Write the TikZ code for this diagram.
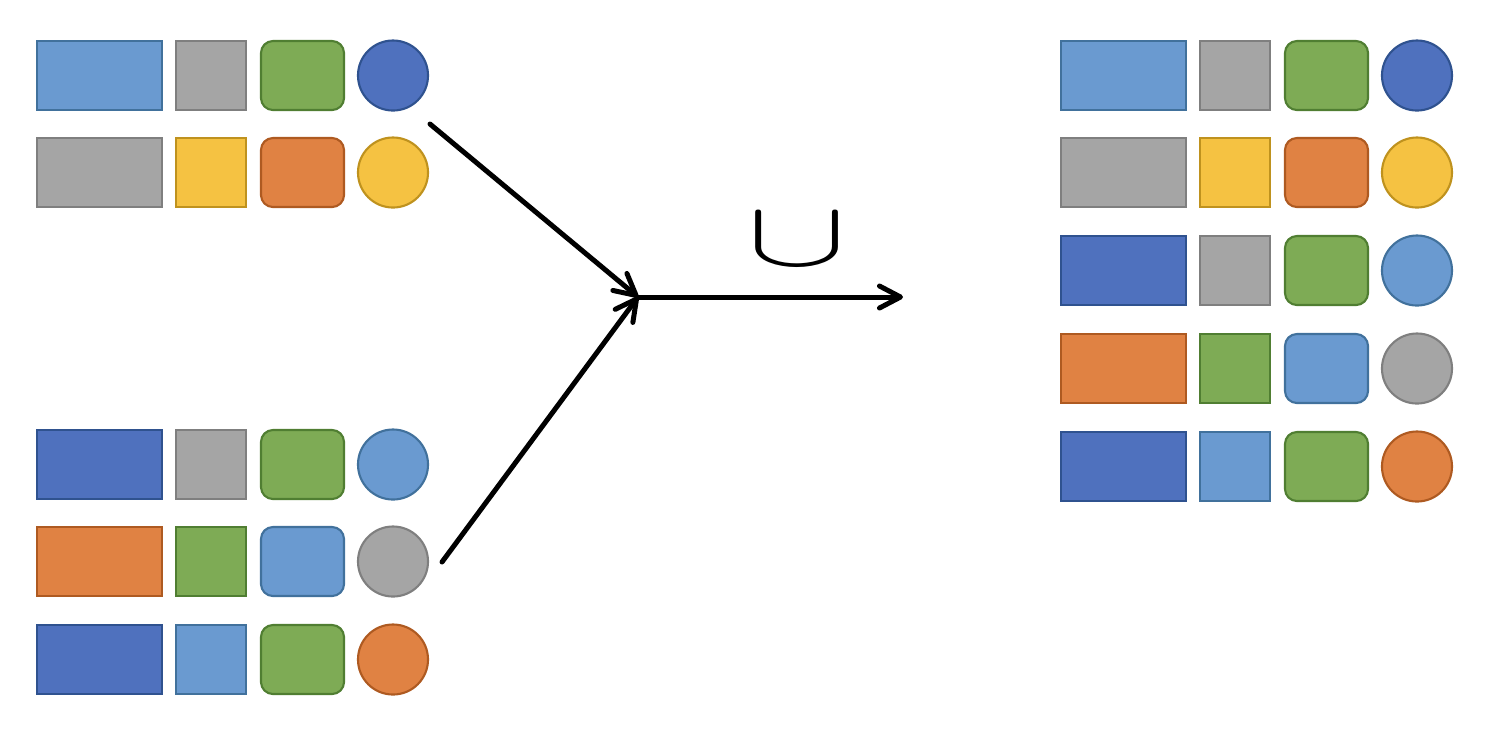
\documentclass[tikz,border=0pt]{standalone}
\usetikzlibrary{arrows.meta}

% Office-style palette: fill and outline
\definecolor{lbF}{RGB}{106,154,208}\definecolor{lbD}{RGB}{65,113,156}
\definecolor{gyF}{RGB}{165,165,165}\definecolor{gyD}{RGB}{127,127,127}
\definecolor{gnF}{RGB}{126,171,85}\definecolor{gnD}{RGB}{80,126,50}
\definecolor{dbF}{RGB}{79,113,190}\definecolor{dbD}{RGB}{47,82,143}
\definecolor{yeF}{RGB}{245,194,66}\definecolor{yeD}{RGB}{191,146,30}
\definecolor{orF}{RGB}{224,130,67}\definecolor{orD}{RGB}{174,90,33}

\tikzset{
  pLB/.style={fill=lbF,draw=lbD},
  pGY/.style={fill=gyF,draw=gyD},
  pGN/.style={fill=gnF,draw=gnD},
  pDB/.style={fill=dbF,draw=dbD},
  pYE/.style={fill=yeF,draw=yeD},
  pOR/.style={fill=orF,draw=orD},
  cell/.style={inner sep=0pt,outer sep=0pt,line width=0.6pt},
  widebox/.style={cell,rectangle,minimum width=1.25cm,minimum height=0.69cm},
  sqbox/.style={cell,rectangle,minimum width=0.70cm,minimum height=0.69cm},
  rndbox/.style={cell,rectangle,rounded corners=0.12cm,minimum width=0.83cm,minimum height=0.69cm},
  dot/.style={cell,circle,minimum size=0.70cm},
  flow/.style={line width=1.42pt,line cap=round,line join=round,
    -{Straight Barb[length=2.1mm,width=2.2mm,line cap=round,line join=round]}}
}

% one row of four shapes: name, x offset, top y, four colour styles
\newcommand{\shaperow}[7]{%
  \node[widebox,#4] (#1a) at ({#2+99.5},{#3+34.5}) {};
  \node[sqbox,#5]   (#1b) at ({#2+211},{#3+34.5}) {};
  \node[rndbox,#6]  (#1c) at ({#2+302.5},{#3+34.5}) {};
  \node[dot,#7]     (#1d) at ({#2+393},{#3+34.5}) {};
}

\begin{document}
\begin{tikzpicture}[x=0.01cm,y=-0.01cm]
  \useasboundingbox (0,0) rectangle (1490,738);

  % first input set
  \shaperow{A1}{0}{41}{pLB}{pGY}{pGN}{pDB}
  \shaperow{A2}{0}{138}{pGY}{pYE}{pOR}{pYE}

  % second input set
  \shaperow{B1}{0}{430}{pDB}{pGY}{pGN}{pLB}
  \shaperow{B2}{0}{527}{pOR}{pGN}{pLB}{pGY}
  \shaperow{B3}{0}{625}{pDB}{pLB}{pGN}{pOR}

  % result of the union
  \shaperow{R1}{1024}{41}{pLB}{pGY}{pGN}{pDB}
  \shaperow{R2}{1024}{138}{pGY}{pYE}{pOR}{pYE}
  \shaperow{R3}{1024}{236}{pDB}{pGY}{pGN}{pLB}
  \shaperow{R4}{1024}{334}{pOR}{pGN}{pLB}{pGY}
  \shaperow{R5}{1024}{432}{pDB}{pLB}{pGN}{pOR}

  % arrows
  \coordinate (s1) at (430,124);
  \coordinate (s2) at (442,562);
  \coordinate (join) at (638,297);
  \coordinate (out) at (903,297);
  \draw[flow] (s1) -- (join);
  \draw[flow] (s2) -- (join);
  \draw[flow] (join) -- (out);

  % union sign, widened to a shallow cup
  \node[inner sep=0pt] (cupsym) at (797,240)
    {\scalebox{1.70}[1.06]{\fontsize{24.88}{30}\selectfont$\cup$}};
\end{tikzpicture}
\end{document}
